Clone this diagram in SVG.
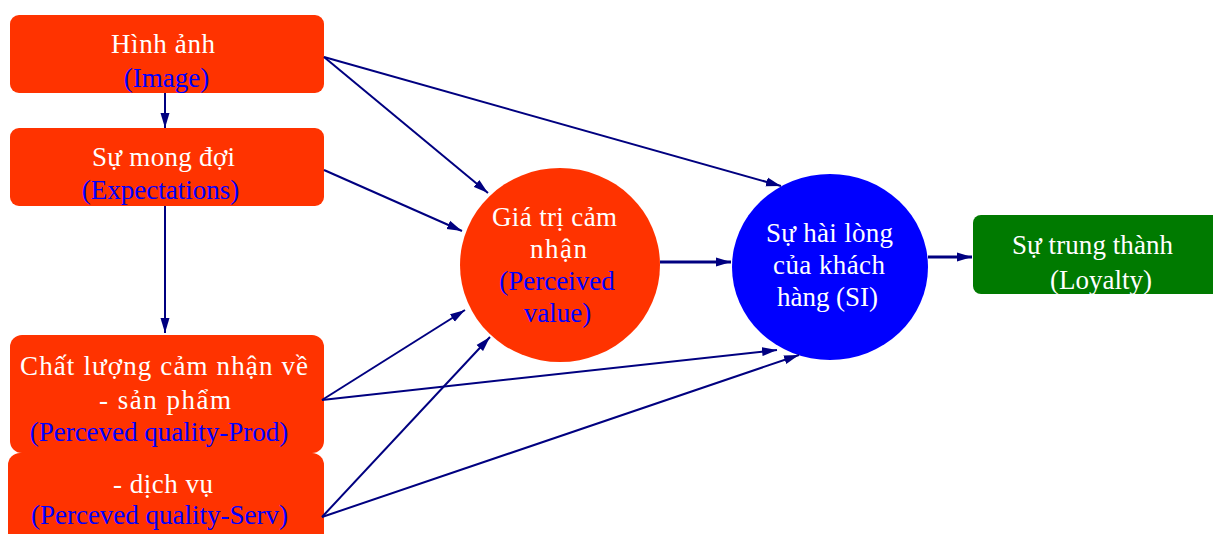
<svg xmlns="http://www.w3.org/2000/svg" width="1213" height="534" viewBox="0 0 1213 534">
<style>
.box{fill:#FF3300}
.t{font-family:"Liberation Serif","Times New Roman",serif;font-size:27px;text-anchor:middle}
.w{fill:#FFFFFF}
.b{fill:#0000FF}
.c line{stroke:#000080;stroke-width:2;marker-end:url(#ah)}
.c line.thick{stroke-width:3}
</style>
<defs>
<marker id="ah" viewBox="0 0 15 10" refX="15" refY="5" markerWidth="15" markerHeight="10" markerUnits="userSpaceOnUse" orient="auto">
<path d="M0,0.5 L15,5 L0,9.5 Z" fill="#000080"/>
</marker>
</defs>
<g id="n-image">
<rect class="box" x="10" y="15" width="314" height="78" rx="9"/>
<text class="t w" x="163" y="53" textLength="104" lengthAdjust="spacing">Hình ảnh</text>
<text class="t b" x="166.5" y="87">(Image)</text>
</g>
<g id="n-expect">
<rect class="box" x="10" y="128" width="314" height="78" rx="9"/>
<text class="t w" x="163.5" y="166" textLength="143" lengthAdjust="spacing">Sự mong đợi</text>
<text class="t b" x="160.5" y="199">(Expectations)</text>
</g>
<g id="n-prod">
<rect class="box" x="10" y="335" width="314" height="118" rx="12"/>
<text class="t w" x="164" y="375" textLength="288" lengthAdjust="spacing">Chất lượng cảm nhận về</text>
<text class="t w" x="165" y="409" textLength="132" lengthAdjust="spacing">- sản phẩm</text>
<text class="t b" x="159" y="441">(Perceved quality-Prod)</text>
</g>
<g id="n-serv">
<rect class="box" x="8" y="453" width="316" height="95" rx="12"/>
<text class="t w" x="163" y="493" textLength="100" lengthAdjust="spacing">- dịch vụ</text>
<text class="t b" x="159.5" y="524">(Perceved quality-Serv)</text>
</g>
<g id="n-value">
<ellipse cx="560" cy="265" rx="100" ry="97" fill="#FF3300"/>
<text class="t w" x="554.5" y="226" textLength="125" lengthAdjust="spacing">Giá trị cảm</text>
<text class="t w" x="558.5" y="258" textLength="57" lengthAdjust="spacing">nhận</text>
<text class="t b" x="557" y="290">(Perceived</text>
<text class="t b" x="557.5" y="322">value)</text>
</g>
<g id="n-si">
<ellipse cx="830" cy="267" rx="98" ry="93" fill="#0000FF"/>
<text class="t w" x="829.5" y="242" textLength="127" lengthAdjust="spacing">Sự hài lòng</text>
<text class="t w" x="829" y="274" textLength="112" lengthAdjust="spacing">của khách</text>
<text class="t w" x="827.5" y="306" textLength="101" lengthAdjust="spacing">hàng (SI)</text>
</g>
<g id="n-loyalty">
<rect x="973" y="215" width="250" height="79" rx="8" fill="#007A00"/>
<text class="t w" x="1092.5" y="254" textLength="161" lengthAdjust="spacing">Sự trung thành</text>
<text class="t w" x="1101" y="289" textLength="102" lengthAdjust="spacing">(Loyalty)</text>
</g>
<g id="connectors" class="c">
<line x1="165" y1="93" x2="165" y2="128"/>
<line x1="165" y1="206" x2="165" y2="333"/>
<line x1="324" y1="57" x2="488" y2="193"/>
<line x1="324" y1="57" x2="781" y2="186"/>
<line x1="324" y1="170" x2="462" y2="231"/>
<line x1="322" y1="400" x2="465" y2="310"/>
<line x1="322" y1="400" x2="777" y2="350"/>
<line x1="322" y1="517" x2="490" y2="337"/>
<line x1="322" y1="517" x2="799" y2="355"/>
<line class="thick" x1="660" y1="262" x2="731" y2="262"/>
<line class="thick" x1="928" y1="257" x2="972" y2="257"/>
</g>
</svg>
